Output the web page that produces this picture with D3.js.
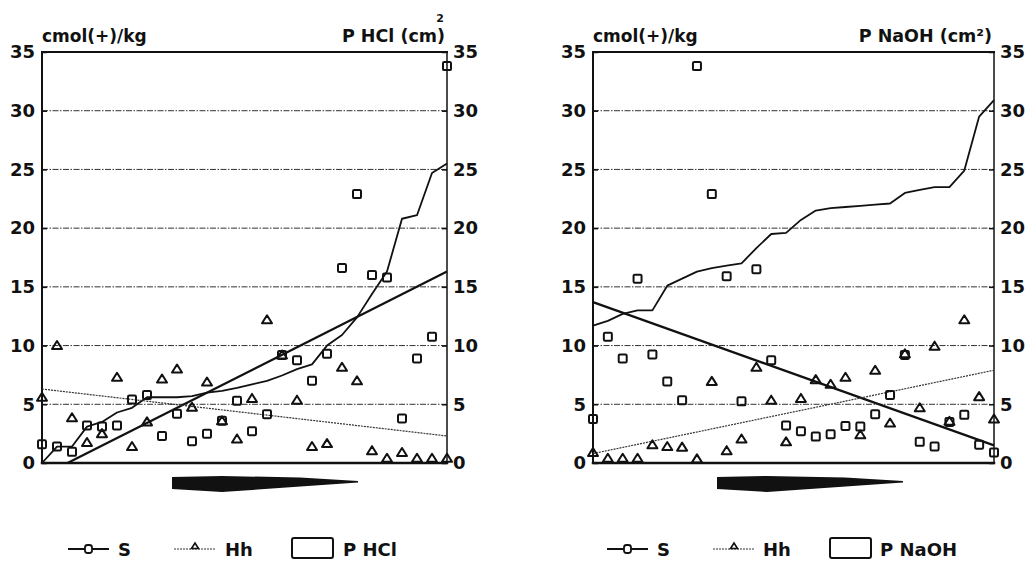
<!DOCTYPE html>
<html>
<head>
<meta charset="utf-8">
<script src="https://cdn.jsdelivr.net/npm/d3@7/dist/d3.min.js"></script>
<style>
  body { margin: 0; background: #fff; }
  svg { display: block; font-family: "DejaVu Sans", sans-serif; font-weight: bold; }
</style>
</head>
<body>
<svg id="chart" width="1030" height="562"></svg>
<script>
// samples ordered by increasing P (the arrow under each panel)
const samples = [1, 2, 3, 4, 5, 6, 7, 8, 9, 10, 11, 12, 13, 14, 15, 16, 17, 18, 19, 20, 21, 22, 23, 24, 25, 26, 27, 28];
const yTicks = [0, 5, 10, 15, 20, 25, 30, 35];
const gridTicks = [5, 10, 15, 20, 25, 30];

// left panel: P extracted with HCl
const sHCl  = [1.6, 1.4, 0.95, 3.2, 3.1, 3.2, 5.4, 5.8, 2.3, 4.2, 1.85, 2.5, 3.6, 5.3, 2.7, 4.15, 9.2, 8.75, 7.0, 9.3, 16.6, 22.9, 16.0, 15.8, 3.8, 8.9, 10.75, 33.8];
const hhHCl = [5.6, 10.0, 3.85, 1.75, 2.5, 7.3, 1.4, 3.5, 7.15, 8.0, 4.75, 6.9, 3.6, 2.05, 5.5, 12.2, 9.2, 5.35, 1.4, 1.65, 8.15, 7.0, 1.05, 0.4, 0.9, 0.4, 0.4, 0.4];
const pHCl  = [0, 1.4, 1.4, 3.1, 3.5, 4.3, 4.7, 5.6, 5.6, 5.6, 5.7, 6.0, 6.15, 6.4, 6.7, 7.0, 7.45, 8.0, 8.4, 10.0, 10.9, 12.4, 14.4, 16.3, 20.8, 21.1, 24.7, 25.5];
const sFitHCl  = [{x: 2.7, y: 0}, {x: 28, y: 16.3}];
const hhFitHCl = [{x: 1, y: 6.3}, {x: 28, y: 2.3}];

// right panel: P extracted with NaOH
const sNaOH  = [3.75, 10.75, 8.9, 15.7, 9.25, 6.95, 5.35, 33.8, 22.9, 15.9, 5.25, 16.5, 8.75, 3.2, 2.7, 2.25, 2.45, 3.15, 3.1, 4.15, 5.8, 9.2, 1.8, 1.4, 3.5, 4.1, 1.55, 0.9];
const hhNaOH = [0.9, 0.4, 0.4, 0.4, 1.55, 1.4, 1.35, 0.35, 6.95, 1.05, 2.05, 8.15, 5.35, 1.8, 5.5, 7.1, 6.7, 7.3, 2.4, 7.9, 3.4, 9.3, 4.7, 9.95, 3.55, 12.2, 5.65, 3.75];
const pNaOH  = [11.7, 12.1, 12.7, 13.0, 13.0, 15.1, 15.7, 16.3, 16.6, 16.8, 17.0, 18.3, 19.5, 19.6, 20.7, 21.5, 21.7, 21.8, 21.9, 22.0, 22.1, 23.0, 23.25, 23.5, 23.5, 24.9, 29.5, 30.9];
const sFitNaOH  = [{x: 1, y: 13.7}, {x: 28, y: 1.5}];
const hhFitNaOH = [{x: 1, y: 0.8}, {x: 28, y: 7.9}];

class PPanel {
  constructor(_config, _data) {
    this.config = {
      parentElement: _config.parentElement,
      left: _config.left,
      top: _config.top || 52,
      width: _config.width,
      height: _config.height || 411,
      pLabel: _config.pLabel,
      arrow: _config.arrow,
      legend: _config.legend
    }
    this.data = _data;
    this.initVis();
  }

  initVis() {
    let vis = this;
    vis.svg = d3.select(vis.config.parentElement);
    vis.chart = vis.svg.append('g')
        .attr('transform', `translate(${vis.config.left},${vis.config.top})`);

    vis.xScale = d3.scaleLinear()
        .domain([1, 28])
        .range([0, vis.config.width]);
    vis.yScale = d3.scaleLinear()
        .domain([0, 35])
        .range([vis.config.height, 0]);

    vis.updateVis();
  }

  updateVis() {
    let vis = this;
    const W = vis.config.width, H = vis.config.height;

    // dashed grid
    vis.chart.selectAll('.grid')
      .data(gridTicks)
      .join('line')
        .attr('class', 'grid')
        .attr('x1', 0).attr('x2', W)
        .attr('y1', d => vis.yScale(d)).attr('y2', d => vis.yScale(d))
        .attr('stroke', '#333')
        .attr('stroke-width', 1)
        .attr('stroke-dasharray', '6,1.5,1.5,1.5');

    // axes, ticks pointing inwards
    const fmt = d3.format('d');
    vis.yAxisL = vis.chart.append('g')
        .call(d3.axisLeft(vis.yScale).tickValues(yTicks).tickFormat(fmt).tickSize(-5).tickSizeOuter(0).tickPadding(7));
    vis.yAxisR = vis.chart.append('g')
        .attr('transform', `translate(${W},0)`)
        .call(d3.axisRight(vis.yScale).tickValues(yTicks).tickFormat(fmt).tickSize(-5).tickSizeOuter(0).tickPadding(6));
    vis.chart.selectAll('.domain').remove();
    vis.chart.selectAll('.tick line').attr('stroke', '#111').attr('stroke-width', 1.5);
    vis.chart.selectAll('.tick text')
        .attr('fill', '#111')
        .style('font-family', '"DejaVu Sans", sans-serif')
        .style('font-weight', 'bold')
        .style('font-size', '18px');

    // frame
    const frame = [
      {x1: 0, y1: 0, x2: W, y2: 0, w: 2},
      {x1: 0, y1: H, x2: W, y2: H, w: 2.5},
      {x1: 0, y1: 0, x2: 0, y2: H, w: 2},
      {x1: W, y1: 0, x2: W, y2: H, w: 1.5}
    ];
    vis.chart.selectAll('.frame')
      .data(frame)
      .join('line')
        .attr('class', 'frame')
        .attr('x1', d => d.x1).attr('y1', d => d.y1)
        .attr('x2', d => d.x2).attr('y2', d => d.y2)
        .attr('stroke', '#111')
        .attr('stroke-width', d => d.w)
        .attr('stroke-linecap', 'square');

    // axis titles
    vis.chart.append('text')
        .attr('x', 0).attr('y', -10)
        .style('font-size', '17px')
        .attr('fill', '#111')
        .text('cmol(+)/kg');
    vis.pTitle = vis.chart.append('text')
        .attr('x', W - 2).attr('y', -10)
        .attr('text-anchor', 'end')
        .style('font-size', '17.5px')
        .attr('fill', '#111')
        .text(vis.config.pLabel.text);
    if (vis.config.pLabel.raised) {
      vis.chart.append('text')
          .attr('x', W - 3).attr('y', -30)
          .attr('text-anchor', 'end')
          .style('font-size', '11px')
          .attr('fill', '#111')
          .text('2');
    }

    const line = d3.line()
        .x(d => vis.xScale(d.x))
        .y(d => vis.yScale(d.y));

    // P curve
    vis.chart.append('path')
        .datum(samples.map((s, i) => ({x: s, y: vis.data.p[i]})))
        .attr('d', line)
        .attr('fill', 'none')
        .attr('stroke', '#111')
        .attr('stroke-width', 1.8)
        .attr('stroke-linejoin', 'round');

    // fitted lines
    vis.chart.append('path')
        .datum(vis.data.sFit)
        .attr('d', line)
        .attr('fill', 'none')
        .attr('stroke', '#111')
        .attr('stroke-width', 2.2);
    vis.chart.append('path')
        .datum(vis.data.hhFit)
        .attr('d', line)
        .attr('fill', 'none')
        .attr('stroke', '#333')
        .attr('stroke-width', 1.2)
        .attr('stroke-dasharray', '2,1');

    // S markers (open squares)
    vis.chart.selectAll('.s-pt')
      .data(samples.map((s, i) => ({x: s, y: vis.data.s[i]})))
      .join('rect')
        .attr('class', 's-pt')
        .attr('x', d => vis.xScale(d.x) - 4)
        .attr('y', d => vis.yScale(d.y) - 4)
        .attr('width', 8).attr('height', 8)
        .attr('rx', 1.2)
        .attr('fill', 'none')
        .attr('stroke', '#111')
        .attr('stroke-width', 2);

    // Hh markers (open triangles)
    vis.chart.selectAll('.hh-pt')
      .data(samples.map((s, i) => ({x: s, y: vis.data.hh[i]})))
      .join('path')
        .attr('class', 'hh-pt')
        .attr('transform', d => `translate(${vis.xScale(d.x)},${vis.yScale(d.y)})`)
        .attr('d', 'M-5,3.5L0,-4.5L5,3.5Z')
        .attr('fill', 'none')
        .attr('stroke', '#111')
        .attr('stroke-width', 2)
        .attr('stroke-linejoin', 'round');

    vis.renderDecor();
  }

  renderDecor() {
    let vis = this;
    const a = vis.config.arrow;
    // hand drawn arrow under the plot (direction of increasing P)
    const pts = [[a.x0, 477], [a.x0 + 50, 476], [a.x0 + 128, 477.5], [a.x1, 481], [a.x1, 482.5], [a.x0 + 50, 492], [a.x0, 489]];
    vis.svg.append('polygon')
        .attr('points', pts.map(p => p.join(',')).join(' '))
        .attr('fill', '#111');

    const lg = vis.config.legend;
    const ly = 549;
    const ty = 556;
    // S
    vis.svg.append('line')
        .attr('x1', lg.s[0]).attr('x2', lg.s[0] + 41).attr('y1', ly).attr('y2', ly)
        .attr('stroke', '#111').attr('stroke-width', 1.8);
    vis.svg.append('rect')
        .attr('x', lg.s[0] + 17).attr('y', ly - 4).attr('width', 7).attr('height', 8).attr('rx', 2.5)
        .attr('fill', '#fff').attr('stroke', '#111').attr('stroke-width', 1.8);
    vis.svg.append('text')
        .attr('x', lg.s[1]).attr('y', ty)
        .style('font-size', '18px').attr('fill', '#111')
        .text('S');
    // Hh
    vis.svg.append('line')
        .attr('x1', lg.hh[0]).attr('x2', lg.hh[0] + 41).attr('y1', ly).attr('y2', ly)
        .attr('stroke', '#333').attr('stroke-width', 1.2).attr('stroke-dasharray', '2,1');
    vis.svg.append('path')
        .attr('transform', `translate(${lg.hh[0] + 21},${ly - 3})`)
        .attr('d', 'M-3.5,2.5L0,-3L3.5,2.5Z')
        .attr('fill', '#fff').attr('stroke', '#111').attr('stroke-width', 1.6);
    vis.svg.append('text')
        .attr('x', lg.hh[1]).attr('y', ty)
        .style('font-size', '18px').attr('fill', '#111')
        .text('Hh');
    // P box
    vis.svg.append('rect')
        .attr('x', lg.box[0]).attr('y', 538).attr('width', 41).attr('height', 20).attr('rx', 2)
        .attr('fill', '#fff').attr('stroke', '#111').attr('stroke-width', 2);
    vis.svg.append('text')
        .attr('x', lg.box[1]).attr('y', ty)
        .style('font-size', '18px').attr('fill', '#111')
        .text(lg.label);
  }
}

new PPanel({
  parentElement: '#chart',
  left: 42, width: 405,
  pLabel: {text: 'P HCl (cm)', raised: true},
  arrow: {x0: 172, x1: 358},
  legend: {s: [68, 118], hh: [174, 225], box: [292, 343], label: 'P HCl'}
}, {s: sHCl, hh: hhHCl, p: pHCl, sFit: sFitHCl, hhFit: hhFitHCl});

new PPanel({
  parentElement: '#chart',
  left: 593, width: 401,
  pLabel: {text: 'P NaOH (cm\u00b2)', raised: false},
  arrow: {x0: 717, x1: 903},
  legend: {s: [607, 657], hh: [713, 763], box: [830, 880], label: 'P NaOH'}
}, {s: sNaOH, hh: hhNaOH, p: pNaOH, sFit: sFitNaOH, hhFit: hhFitNaOH});
</script>
</body>
</html>
